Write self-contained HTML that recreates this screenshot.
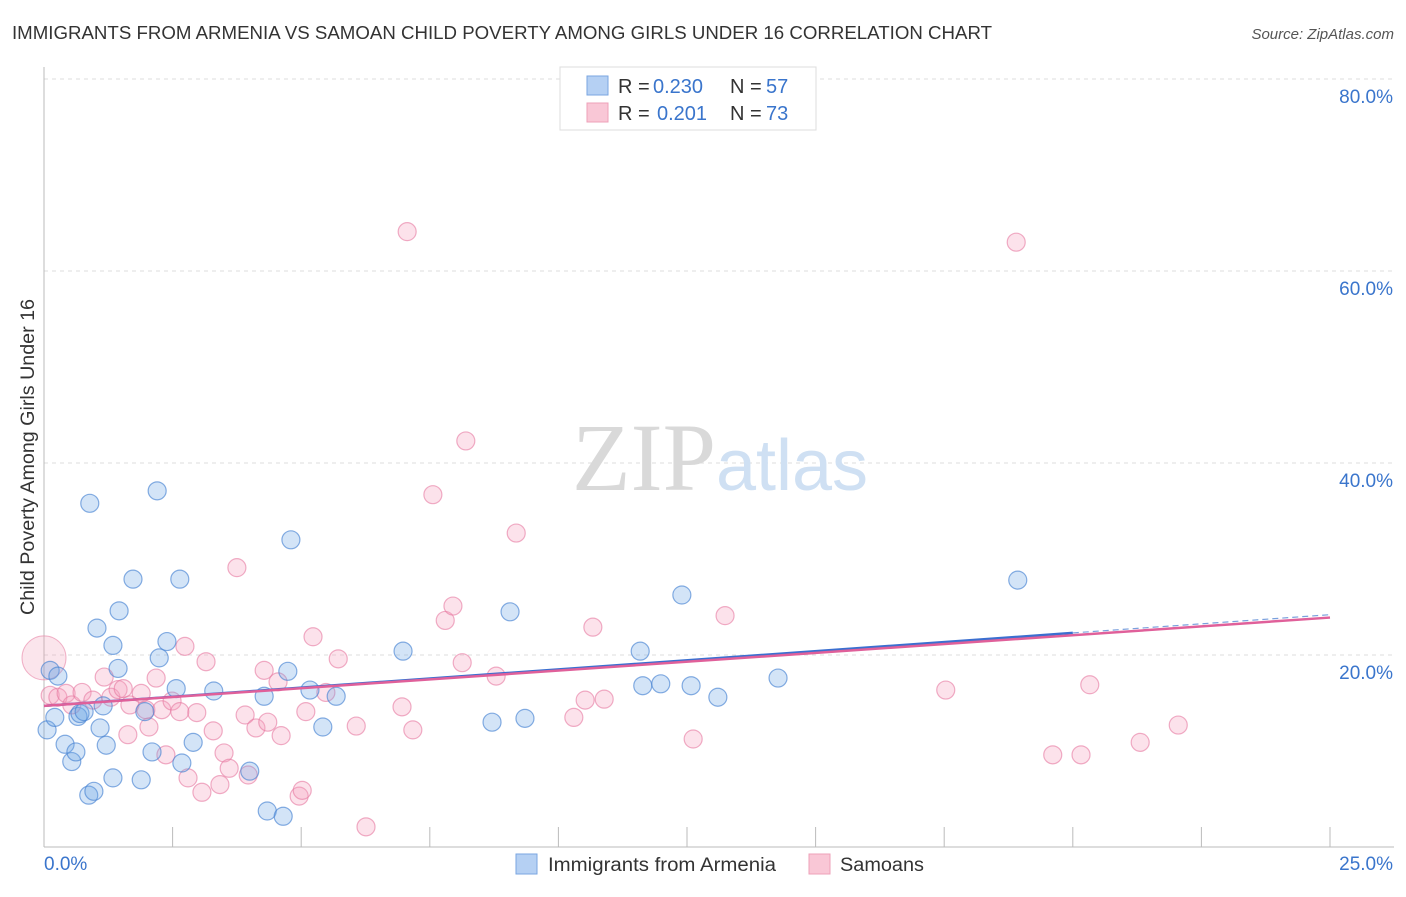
<!DOCTYPE html>
<html><head><meta charset="utf-8">
<style>
body{margin:0;background:#fff;font-family:"Liberation Sans",sans-serif;}
svg text{font-family:"Liberation Sans",sans-serif;}
</style></head>
<body>
<svg id="chart" width="1406" height="892" xmlns="http://www.w3.org/2000/svg">
<text x="12" y="39" font-size="18" fill="#333" textLength="980" lengthAdjust="spacingAndGlyphs">IMMIGRANTS FROM ARMENIA VS SAMOAN CHILD POVERTY AMONG GIRLS UNDER 16 CORRELATION CHART</text>
<text x="1394" y="39" font-size="15" fill="#555" text-anchor="end" font-style="italic">Source: ZipAtlas.com</text>
<text x="34" y="457" font-size="19" fill="#333" text-anchor="middle" transform="rotate(-90 34 457)" textLength="316" lengthAdjust="spacingAndGlyphs">Child Poverty Among Girls Under 16</text>
<g id="grid"></g>
<g id="axes"></g>
<text x="720" y="490" font-size="96" fill="#ddd" text-anchor="middle" font-family="Liberation Serif"><tspan fill="#d9d9d9" font-family="Liberation Serif">ZIP</tspan><tspan fill="#cfe0f3" font-family="Liberation Sans" font-size="72">atlas</tspan></text>
<g id="points"></g>
<g id="trends"></g>
<g>
<rect x="560" y="67" width="256" height="63" fill="#fff" stroke="#ddd"/>
<rect x="587" y="76" width="21" height="19" fill="#b5d0f3" stroke="#7aa6e0"/>
<rect x="587" y="103" width="21" height="19" fill="#f9c7d6" stroke="#eea0b8"/>
<text x="618" y="93" font-size="20" fill="#333">R = <tspan x="653" fill="#3a75cc">0.230</tspan><tspan x="730">N = </tspan><tspan x="766" fill="#3a75cc">57</tspan></text>
<text x="618" y="120" font-size="20" fill="#333">R = <tspan x="657" fill="#3a75cc">0.201</tspan><tspan x="730">N = </tspan><tspan x="766" fill="#3a75cc">73</tspan></text>
</g>
<g>
<rect x="516" y="854" width="21" height="20" fill="#b5d0f3" stroke="#7aa6e0"/>
<text x="548" y="871" font-size="19" fill="#333" textLength="228" lengthAdjust="spacingAndGlyphs">Immigrants from Armenia</text>
<rect x="809" y="854" width="21" height="20" fill="#f9c7d6" stroke="#eea0b8"/>
<text x="840" y="871" font-size="19" fill="#333" textLength="84" lengthAdjust="spacingAndGlyphs">Samoans</text>
</g>
</svg>
<script>
const yTicks=[20,40,60,80];
const yTickLabels=["20.0%","40.0%","60.0%","80.0%"];
const xTickVals=[0,2.5,5,7.5,10,12.5,15,17.5,20,22.5,25];
const xEndLabels=["0.0%","25.0%"];
const armeniaX=[0.06,0.12,0.21,0.27,0.41,0.54,0.62,0.66,0.70,0.78,0.87,0.97,0.89,1.03,1.09,1.15,1.21,1.34,1.34,1.44,1.46,1.73,1.89,1.96,2.10,2.20,2.24,2.39,2.57,2.64,2.68,2.90,3.30,4.00,4.28,4.34,4.65,4.74,4.80,5.17,5.42,5.68,6.98,8.71,9.06,9.35,11.59,11.64,11.99,12.40,12.58,13.10,14.27,18.93];
const armeniaY=[12.2,18.4,13.5,17.8,10.7,8.9,9.9,13.6,13.9,14.1,5.4,5.8,35.8,22.8,12.4,14.7,10.6,7.2,21.0,18.6,24.6,27.9,7.0,14.1,9.9,37.1,19.7,21.4,16.5,27.9,8.75,10.9,16.25,7.9,15.7,3.75,3.2,18.3,32.0,16.35,12.5,15.7,20.4,13.0,24.5,13.4,20.4,16.8,17.0,26.25,16.8,15.6,17.6,27.8];
const samoanX=[0.12,0.27,0.43,0.54,0.74,0.95,1.17,1.30,1.44,1.54,1.63,1.67,1.89,1.98,2.04,2.18,2.29,2.37,2.49,2.64,2.74,2.80,2.97,3.07,3.15,3.29,3.42,3.50,3.60,3.75,3.91,3.97,4.12,4.28,4.35,4.55,4.61,4.96,5.02,5.09,5.23,5.48,5.72,6.07,6.26,6.96,7.06,7.17,7.56,7.80,7.95,8.13,8.20,8.79,9.18,10.30,10.52,10.67,10.89,12.62,13.24,17.53,18.90,19.61,20.16,20.33,21.31,22.05];
const samoanY=[15.8,15.6,16.0,14.8,16.1,15.3,17.7,15.6,16.4,16.5,11.7,14.8,16.0,14.3,12.5,17.6,14.3,9.6,15.2,14.1,20.9,7.2,14.0,5.7,19.3,12.1,6.5,9.8,8.2,29.1,13.75,7.5,12.4,18.4,13.0,17.2,11.6,5.3,5.9,14.1,21.9,16.1,19.6,12.6,2.1,14.6,64.1,12.2,36.7,23.6,25.1,19.2,42.3,17.8,32.7,13.5,15.3,22.9,15.4,11.25,24.1,16.35,63.0,9.6,9.6,16.9,10.9,12.7];
const bigPoint=[0,19.7];
const armeniaTrend=[14.7,22.3]; // values at x=0 and x=20
const samoanTrend=[14.7,23.9];  // values at x=0 and x=25

const NS="http://www.w3.org/2000/svg";
const X0=44,X1=1330,Y0=847,Y80=79;
const sx=v=>X0+(X1-X0)*v/25;
const sy=v=>Y0-(Y0-Y80)*v/80;
function mk(tag,attrs,parent){const e=document.createElementNS(NS,tag);for(const k in attrs)e.setAttribute(k,attrs[k]);parent.appendChild(e);return e;}
const grid=document.getElementById('grid'),axes=document.getElementById('axes');
yTicks.forEach((t,i)=>{
  const l=mk('line',{x1:X0,x2:1394,y1:sy(t),y2:sy(t),stroke:'#ddd','stroke-dasharray':'4,4'},grid);
  
  
  const tx=mk('text',{x:1393,y:sy(t)+24,'font-size':19,fill:'#3a75cc','text-anchor':'end'},axes);
  tx.textContent=yTickLabels[i];
  
  
});
const ya=mk('line',{x1:X0,x2:X0,y1:67,y2:Y0,stroke:'#bbb'},axes);


const xa=mk('line',{x1:X0,x2:1394,y1:Y0,y2:Y0,stroke:'#bbb'},axes);


xTickVals.forEach(v=>{
  const t=mk('line',{x1:sx(v),x2:sx(v),y1:827,y2:Y0,stroke:'#bbb'},axes);
  
  
});
const xl0=mk('text',{x:44,y:870,'font-size':19,fill:'#3a75cc'},axes);
xl0.textContent=xEndLabels[0];


const xl1=mk('text',{x:1393,y:870,'font-size':19,fill:'#3a75cc','text-anchor':'end'},axes);
xl1.textContent=xEndLabels[1];



const pts=document.getElementById('points');
const bp=mk('circle',{cx:sx(bigPoint[0]),cy:sy(bigPoint[1]),r:22,fill:'rgba(240,150,180,0.25)',stroke:'rgba(232,130,165,0.6)'},pts);


samoanX.forEach((x,i)=>{
  const c=mk('circle',{cx:sx(x),cy:sy(samoanY[i]),r:9,fill:'rgba(244,160,190,0.3)',stroke:'rgba(230,120,160,0.6)','stroke-width':1.2},pts);
  
  
});
armeniaX.forEach((x,i)=>{
  const c=mk('circle',{cx:sx(x),cy:sy(armeniaY[i]),r:9,fill:'rgba(110,165,230,0.3)',stroke:'rgba(70,130,210,0.65)','stroke-width':1.2},pts);
  
  
});
const tr=document.getElementById('trends');
const bslope=(armeniaTrend[1]-armeniaTrend[0])/20;
const bl=mk('line',{x1:sx(0),y1:sy(armeniaTrend[0]),x2:sx(20),y2:sy(armeniaTrend[1]),stroke:'#3b6fd0','stroke-width':2.5},tr);


const bd=mk('line',{x1:sx(20),y1:sy(armeniaTrend[1]),x2:sx(25),y2:sy(armeniaTrend[0]+bslope*25),stroke:'#7aa0dd','stroke-width':1.2,'stroke-dasharray':'6,4'},tr);


const pl=mk('line',{x1:sx(0),y1:sy(samoanTrend[0]),x2:sx(25),y2:sy(samoanTrend[1]),stroke:'#e0609a','stroke-width':2.5},tr);


</script>
</body></html>
